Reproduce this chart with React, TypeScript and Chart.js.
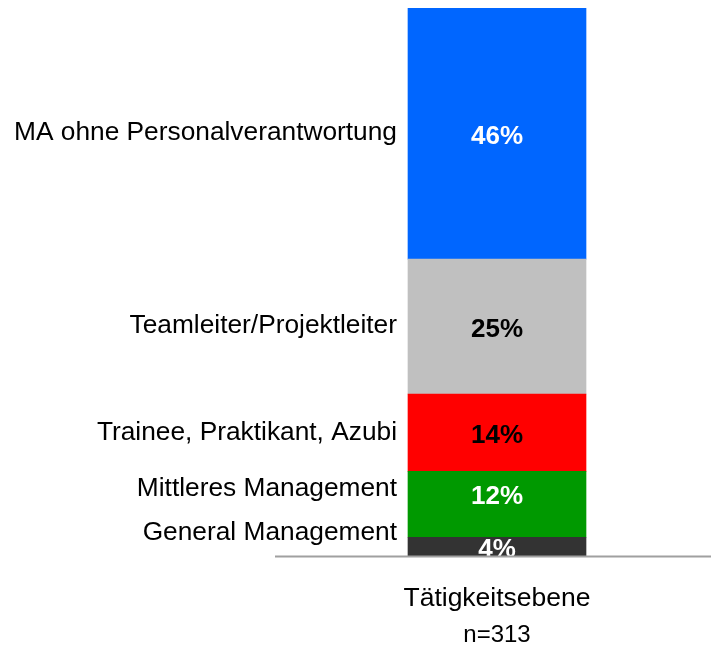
import React, { useEffect, useRef } from "react";
import { Chart, registerables } from "chart.js";

Chart.register(...registerables);

// ---- data ----
const categoryNames = ["Tätigkeitsebene"];
const sampleNote = "n=313";
const levels = [
  "General Management",
  "Mittleres Management",
  "Trainee, Praktikant, Azubi",
  "Teamleiter/Projektleiter",
  "MA ohne Personalverantwortung",
];
const shares = [3.5, 12.0, 14.1, 24.6, 45.8];
const shareLabels = ["4%", "12%", "14%", "25%", "46%"];
const barColors = ["#333333", "#009900", "#FF0000", "#C0C0C0", "#0066FF"];
const shareLabelColors = ["#FFFFFF", "#FFFFFF", "#000000", "#000000", "#FFFFFF"];

const FONT = "'Liberation Sans', Arial, Helvetica, sans-serif";

const segmentLabelPlugin = {
  id: "segmentLabels",
  afterDatasetsDraw(chart: any) {
    const ctx = chart.ctx;
    const area = chart.chartArea;
    const bars = chart.data.datasets.map((_: any, i: number) =>
      chart.getDatasetMeta(i).data[0].getProps(["x", "y", "base", "width"], true)
    );

    // percentage labels inside the bar (pushed upward if crowded)
    ctx.save();
    ctx.beginPath();
    ctx.rect(area.left, area.top, area.right - area.left, area.bottom - area.top);
    ctx.clip();
    ctx.font = `bold 26px ${FONT}`;
    ctx.textAlign = "center";
    ctx.textBaseline = "middle";
    let prev = Infinity;
    bars.forEach((b: any, i: number) => {
      const center = (b.y + b.base) / 2 + 3;
      const y = Math.min(center, prev - 53);
      prev = y;
      ctx.fillStyle = shareLabelColors[i];
      ctx.fillText(shareLabels[i], b.x, y);
    });
    ctx.restore();

    // category labels to the left of the bar
    ctx.save();
    ctx.font = `26.3px ${FONT}`;
    ctx.textAlign = "right";
    ctx.textBaseline = "middle";
    ctx.fillStyle = "#000000";
    let prevL = area.bottom - 24 + 44;
    bars.forEach((b: any, i: number) => {
      const center = (b.y + b.base) / 2 - 0.5;
      const y = Math.min(center, prevL - 44);
      prevL = y;
      ctx.fillText(levels[i], b.x - b.width / 2 - 11, y);
    });
    ctx.restore();
  },
  afterDraw(chart: any) {
    const ctx = chart.ctx;
    const area = chart.chartArea;
    ctx.save();
    ctx.strokeStyle = "#A0A0A0";
    ctx.lineWidth = 2;
    ctx.beginPath();
    ctx.moveTo(area.left - 8, area.bottom);
    ctx.lineTo(chart.width, area.bottom);
    ctx.stroke();
    ctx.restore();
  },
};

export default function App() {
  const canvasRef = useRef<HTMLCanvasElement | null>(null);

  useEffect(() => {
    if (!canvasRef.current) return;
    const chart = new Chart(canvasRef.current, {
      type: "bar",
      data: {
        labels: categoryNames,
        datasets: levels.map((name, i) => ({
          label: name,
          data: [shares[i]],
          backgroundColor: barColors[i],
          borderWidth: 0,
          barThickness: 178,
        })),
      },
      options: {
        responsive: false,
        animation: false,
        devicePixelRatio: 1,
        layout: { padding: { top: 8, left: 283, right: 0, bottom: 0 } },
        plugins: {
          legend: { display: false },
          tooltip: { enabled: false },
        },
        scales: {
          x: {
            stacked: true,
            grid: { display: false, drawTicks: false },
            border: { display: false },
            ticks: {
              color: "#000000",
              font: { family: FONT, size: 26.5, lineHeight: 1.1 },
              padding: 27.7,
              maxRotation: 0,
            },
            title: {
              display: true,
              text: sampleNote,
              color: "#000000",
              font: { family: FONT, size: 24, lineHeight: 1 },
              padding: { top: -18, bottom: -1 },
            },
          },
          y: {
            stacked: true,
            display: false,
            min: 0,
            max: shares.reduce((a, b) => a + b, 0),
          },
        },
      },
      plugins: [segmentLabelPlugin],
    });
    return () => chart.destroy();
  }, []);

  return (
    <div style={{ position: "fixed", left: 0, top: 0, width: 711, height: 646, background: "#fff" }}>
      <canvas ref={canvasRef} width={711} height={646} style={{ display: "block" }} />
    </div>
  );
}
